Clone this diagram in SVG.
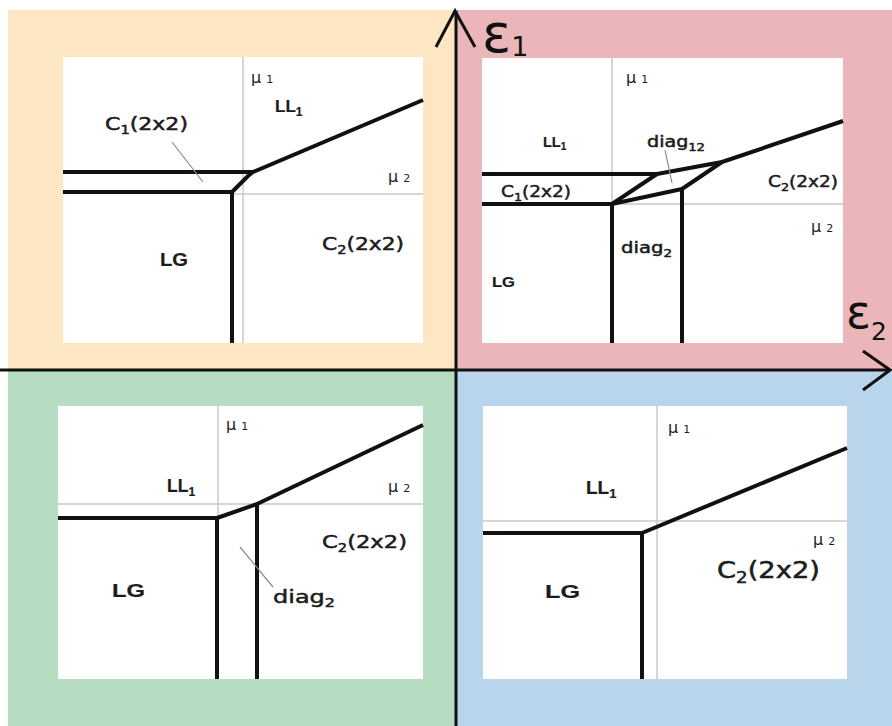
<svg xmlns="http://www.w3.org/2000/svg" width="892" height="726" viewBox="0 0 892 726">
  <style>
    .bg-o { fill: #FDE6C4; }
    .bg-p { fill: #EAB6BA; }
    .bg-g { fill: #B6DDC2; }
    .bg-b { fill: #B9D5EB; }
    .panel { fill: #ffffff; }
    .guide { stroke: #c9c9c9; stroke-width: 1.5; fill: none; }
    .bound { stroke: #111111; stroke-width: 4; fill: none; stroke-linejoin: round; stroke-linecap: butt; }
    .leader { stroke: #8a8a8a; stroke-width: 1.2; fill: none; }
    .axis { stroke: #111111; stroke-width: 3; fill: none; }
    .lbl { font-family: "DejaVu Sans", "Liberation Sans", sans-serif; fill: #1c1c1c; stroke: #1c1c1c; stroke-width: 0.5; }
    .b { font-family: "Liberation Sans", "DejaVu Sans", sans-serif; font-weight: bold; stroke-width: 0.2; }
    .mu { font-family: "DejaVu Sans", "Liberation Sans", sans-serif; fill: #222; font-size: 16px; }
    .ax { font-family: "DejaVu Sans", "Liberation Sans", sans-serif; fill: #111; }
  </style>

  <!-- quadrant backgrounds -->
  <g id="backgrounds">
    <rect class="bg-o" x="8" y="10" width="448" height="360"/>
    <rect class="bg-p" x="456" y="10" width="436" height="360"/>
    <rect class="bg-g" x="8" y="370" width="448" height="356"/>
    <rect class="bg-b" x="456" y="370" width="436" height="356"/>
  </g>

  <!-- top-left phase diagram -->
  <g id="panel-tl">
    <rect class="panel" x="63" y="57" width="360" height="286"/>
    <line class="guide" x1="243" y1="57" x2="243" y2="343"/>
    <line class="guide" x1="232" y1="194" x2="423" y2="194"/>
    <polyline class="bound" points="63,172 253,172 423,100"/>
    <polyline class="bound" points="63,192 232,192 248,176 253,172"/>
    <line class="bound" x1="232" y1="192" x2="232" y2="343"/>
    <line class="leader" x1="172" y1="142" x2="203" y2="182"/>
    <text class="mu" x="251" y="83">μ <tspan font-size="11">1</tspan></text>
    <text class="mu" x="388" y="182">μ <tspan font-size="11">2</tspan></text>
    <text class="lbl b" x="275" y="112" font-size="17">LL<tspan font-size="12" dy="4">1</tspan></text>
    <text class="lbl" x="105" y="130" font-size="18" textLength="83" lengthAdjust="spacingAndGlyphs">C<tspan font-size="12" dy="4">1</tspan><tspan dy="-4">(2x2)</tspan></text>
    <text class="lbl b" x="160" y="266" font-size="18" textLength="28" lengthAdjust="spacingAndGlyphs">LG</text>
    <text class="lbl" x="322" y="250" font-size="18" textLength="82" lengthAdjust="spacingAndGlyphs">C<tspan font-size="12" dy="4">2</tspan><tspan dy="-4">(2x2)</tspan></text>
  </g>

  <!-- top-right phase diagram -->
  <g id="panel-tr">
    <rect class="panel" x="482" y="58" width="361" height="285"/>
    <line class="guide" x1="612" y1="58" x2="612" y2="204"/>
    <line class="guide" x1="612" y1="204" x2="843" y2="204"/>
    <polyline class="bound" points="482,174 657,174 722,162 843,121"/>
    <polyline class="bound" points="482,204 612,204 657,174"/>
    <polyline class="bound" points="612,204 682,189 722,162"/>
    <line class="bound" x1="612" y1="204" x2="612" y2="343"/>
    <line class="bound" x1="682" y1="189" x2="682" y2="343"/>
    <line class="leader" x1="665" y1="150" x2="672" y2="183"/>
    <text class="mu" x="626" y="83">μ <tspan font-size="11">1</tspan></text>
    <text class="mu" x="811" y="232">μ <tspan font-size="11">2</tspan></text>
    <text class="lbl b" x="543" y="147" font-size="14.5">LL<tspan font-size="10" dy="3">1</tspan></text>
    <text class="lbl" x="647" y="147" font-size="16" textLength="58" lengthAdjust="spacingAndGlyphs">diag<tspan font-size="11" dy="4">12</tspan></text>
    <text class="lbl" x="501" y="197" font-size="16" textLength="70" lengthAdjust="spacingAndGlyphs">C<tspan font-size="11" dy="4">1</tspan><tspan dy="-4">(2x2)</tspan></text>
    <text class="lbl" x="768" y="187" font-size="16" textLength="70" lengthAdjust="spacingAndGlyphs">C<tspan font-size="11" dy="4">2</tspan><tspan dy="-4">(2x2)</tspan></text>
    <text class="lbl" x="621" y="253" font-size="16" textLength="51" lengthAdjust="spacingAndGlyphs">diag<tspan font-size="11" dy="4">2</tspan></text>
    <text class="lbl b" x="492" y="287" font-size="14.5" textLength="23" lengthAdjust="spacingAndGlyphs">LG</text>
  </g>

  <!-- bottom-left phase diagram -->
  <g id="panel-bl">
    <rect class="panel" x="58" y="406" width="365" height="273"/>
    <line class="guide" x1="218" y1="406" x2="218" y2="679"/>
    <line class="guide" x1="58" y1="504" x2="423" y2="504"/>
    <polyline class="bound" points="58,518 217,518 257,504 423,425"/>
    <line class="bound" x1="217" y1="518" x2="217" y2="679"/>
    <line class="bound" x1="257" y1="504" x2="257" y2="679"/>
    <line class="leader" x1="240" y1="547" x2="273" y2="587"/>
    <text class="mu" x="226" y="430">μ <tspan font-size="11">1</tspan></text>
    <text class="mu" x="388" y="492">μ <tspan font-size="11">2</tspan></text>
    <text class="lbl b" x="167" y="492" font-size="17.5">LL<tspan font-size="12" dy="4">1</tspan></text>
    <text class="lbl" x="322" y="548" font-size="18.5" textLength="85" lengthAdjust="spacingAndGlyphs">C<tspan font-size="12" dy="4">2</tspan><tspan dy="-4">(2x2)</tspan></text>
    <text class="lbl b" x="112" y="597" font-size="17.5" textLength="33" lengthAdjust="spacingAndGlyphs">LG</text>
    <text class="lbl" x="273" y="603" font-size="18" textLength="62" lengthAdjust="spacingAndGlyphs">diag<tspan font-size="12" dy="4">2</tspan></text>
  </g>

  <!-- bottom-right phase diagram -->
  <g id="panel-br">
    <rect class="panel" x="483" y="406" width="364" height="273"/>
    <line class="guide" x1="657" y1="406" x2="657" y2="679"/>
    <line class="guide" x1="483" y1="521" x2="847" y2="521"/>
    <polyline class="bound" points="483,533 642,533 847,448"/>
    <line class="bound" x1="642" y1="533" x2="642" y2="679"/>
    <text class="mu" x="668" y="433">μ <tspan font-size="11">1</tspan></text>
    <text class="mu" x="813" y="545">μ <tspan font-size="11">2</tspan></text>
    <text class="lbl b" x="586" y="494" font-size="19">LL<tspan font-size="13" dy="4">1</tspan></text>
    <text class="lbl" x="717" y="578" font-size="22.5" textLength="103" lengthAdjust="spacingAndGlyphs">C<tspan font-size="15" dy="5">2</tspan><tspan dy="-5">(2x2)</tspan></text>
    <text class="lbl b" x="545" y="598" font-size="18.5" textLength="35" lengthAdjust="spacingAndGlyphs">LG</text>
  </g>

  <!-- coupling axes -->
  <g id="connectors">
    <line class="axis" x1="456" y1="11" x2="456" y2="726"/>
    <line class="axis" x1="0" y1="370" x2="890" y2="370"/>
    <polyline class="axis" points="436,47 455,11 475,47"/>
    <polyline class="axis" points="863,351 890,370 863,390"/>
    <text class="ax" x="482" y="52" font-size="54">ε<tspan font-size="27" dy="4">1</tspan></text>
    <text class="ax" x="846" y="328" font-size="46">ε<tspan font-size="25" dy="12">2</tspan></text>
  </g>
</svg>
